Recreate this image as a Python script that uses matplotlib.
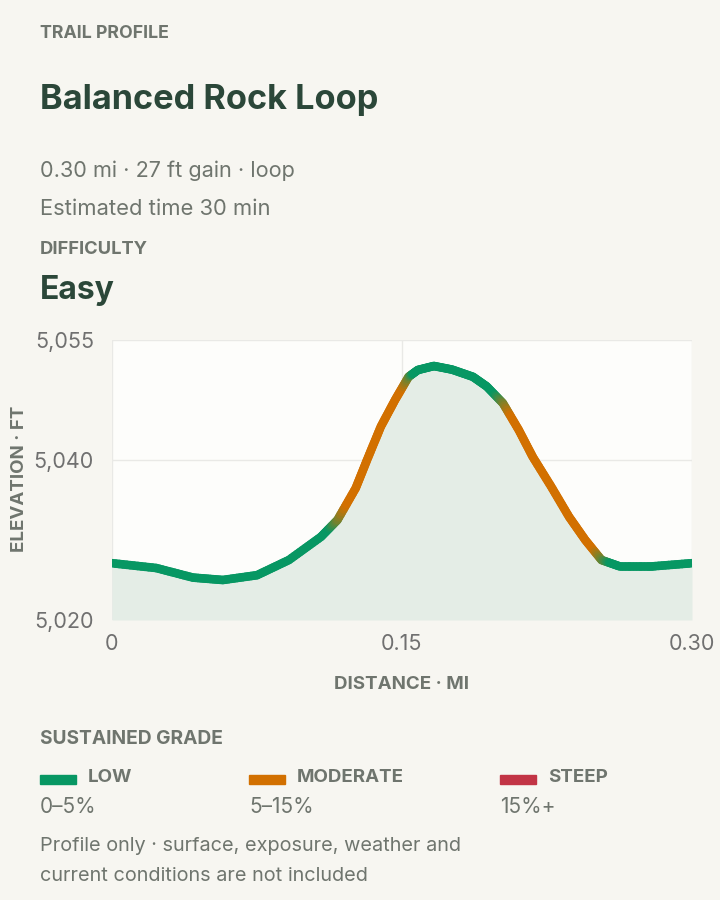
import numpy as np
import matplotlib
matplotlib.use("Agg")
import matplotlib.pyplot as plt
from matplotlib.collections import LineCollection
from matplotlib.colors import to_rgb

plt.rcParams["font.family"] = ["Inter", "DejaVu Sans"]

# profile (miles, feet)
distance = [0.0, 0.0228, 0.0419, 0.0573, 0.0750, 0.0915, 0.1081, 0.1166, 0.1261, 0.1319,
            0.1391, 0.1464, 0.1534, 0.1582, 0.1665, 0.1759, 0.1867, 0.1938, 0.2022, 0.2104,
            0.2176, 0.2271, 0.2364, 0.2448, 0.2532, 0.2626, 0.2793, 0.30]
elevation = [5027.1, 5026.5, 5025.3, 5025.0, 5025.6, 5027.5, 5030.4, 5032.5, 5036.5, 5040.0,
             5044.2, 5047.5, 5050.4, 5051.25, 5051.75, 5051.3, 5050.4, 5049.2, 5047.1, 5043.75,
             5040.4, 5036.7, 5032.9, 5030.0, 5027.5, 5026.7, 5026.7, 5027.1]

x_ticks = [0, 0.15, 0.30]
x_labels = ["0", "0.15", "0.30"]
y_ticks = [5020, 5040, 5055]
y_labels = ["5,020", "5,040", "5,055"]

grade_names = ["LOW", "MODERATE", "STEEP"]
grade_ranges = ["0–5%", "5–15%", "15%+"]
grade_limits = [5, 15]
grade_colors = ["#079763", "#d27000", "#c23445"]

BG = "#f7f6f1"
DARK = "#2b4739"
GRAY = "#6f756e"

W, H = 720, 900
fig = plt.figure(figsize=(W / 100, H / 100), dpi=100, facecolor=BG)


def txt(x, y, s, **kw):
    kw.setdefault("va", "center")
    fig.text(x / W, 1 - y / H, s, **kw)


txt(40, 33, "TRAIL PROFILE", fontsize=12.8, fontweight="bold", color=GRAY)
txt(40, 100, "Balanced Rock Loop", fontsize=24.7, fontweight="bold", color=DARK)
txt(40, 171, "0.30 mi · 27 ft gain · loop", fontsize=15.6, color=GRAY)
txt(40, 209, "Estimated time 30 min", fontsize=15.8, color=GRAY)
txt(40, 250, "DIFFICULTY", fontsize=13.2, fontweight="bold", color=GRAY)
txt(40, 290, "Easy", fontsize=23, fontweight="bold", color=DARK)

ax = fig.add_axes([112 / W, 1 - 620 / H, 580 / W, 280 / H])
ax.set_facecolor("#fdfdfb")
ax.set_xlim(0, 0.30)
ax.set_ylim(5020, 5055)
for s in ax.spines.values():
    s.set_visible(False)
ax.set_xticks(x_ticks)
ax.set_xticklabels(x_labels)
ax.set_yticks(y_ticks)
ax.set_yticklabels(y_labels)
ax.tick_params(length=0, labelsize=15.5, labelcolor="#707070", pad=10)
ax.tick_params(axis="y", pad=13)
ax.grid(True, color="#e9e9e6", linewidth=1)
ax.set_axisbelow(True)

d = np.array(distance)
e = np.array(elevation)
ax.fill_between(d, e, 5020, color="#e4ede6", linewidth=0, zorder=1)

# grade per segment -> colour, blended across segment boundaries
grade = np.diff(e) / (np.diff(d) * 5280) * 100
seg_col = np.array([to_rgb(grade_colors[np.searchsorted(grade_limits, abs(g))]) for g in grade])
vert_col = np.vstack([seg_col[:1], (seg_col[:-1] + seg_col[1:]) / 2, seg_col[-1:]])

pts, cols = [], []
n = 12
for i in range(len(d) - 1):
    for k in range(n):
        t0, t1 = k / n, (k + 1) / n
        p0 = (d[i] + (d[i + 1] - d[i]) * t0, e[i] + (e[i + 1] - e[i]) * t0)
        p1 = (d[i] + (d[i + 1] - d[i]) * t1, e[i] + (e[i + 1] - e[i]) * t1)
        tm = (t0 + t1) / 2
        if tm < 0.5:
            c = vert_col[i] + (seg_col[i] - vert_col[i]) * (tm / 0.5)
        else:
            c = seg_col[i] + (vert_col[i + 1] - seg_col[i]) * ((tm - 0.5) / 0.5)
        pts.append([p0, p1])
        cols.append(c)
lc = LineCollection(pts, colors=cols, linewidths=6.2, capstyle="round", joinstyle="round", zorder=3)
ax.add_collection(lc)

ax.set_xlabel("DISTANCE · MI", fontsize=13.5, fontweight="bold", color=GRAY)
ax.set_ylabel("ELEVATION · FT", fontsize=13.5, fontweight="bold", color=GRAY)
ax.xaxis.set_label_coords(0.5, -(676 - 620) / 280)
ax.yaxis.set_label_coords(-(112 - 28) / 580, (620 - 479) / 280)

txt(40, 739, "SUSTAINED GRADE", fontsize=13.8, fontweight="bold", color=GRAY)
for i, (name, rng, col) in enumerate(zip(grade_names, grade_ranges, grade_colors)):
    x0 = [40, 249, 500][i]
    fig.patches.append(plt.Rectangle((x0 / W, 1 - 784 / H), 36 / W, 9 / H,
                                     transform=fig.transFigure, color=col, figure=fig))
    txt(x0 + 48, 778, name, fontsize=13.5, fontweight="bold", color=GRAY)
    txt(x0, 807, rng, fontsize=15, color=GRAY)

txt(40, 846, "Profile only · surface, exposure, weather and", fontsize=14.3, color=GRAY)
txt(40, 876, "current conditions are not included", fontsize=14.3, color=GRAY)

fig.savefig("out.png", dpi=100, facecolor=BG)
